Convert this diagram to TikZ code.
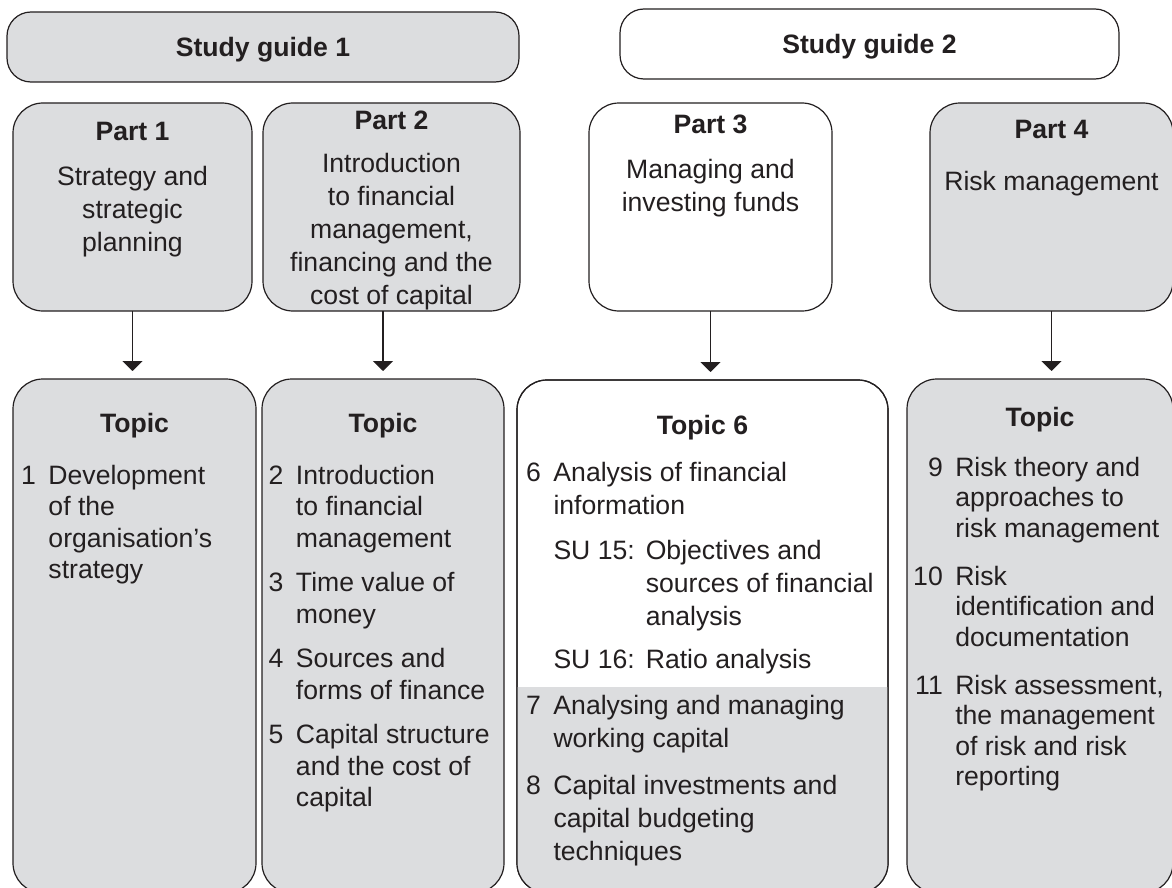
\documentclass[tikz,border=0pt]{standalone}
\usepackage{fontspec}
\setmainfont{Liberation Sans}
\usepackage{tikz}
\usetikzlibrary{positioning, arrows.meta}
\definecolor{ink}{RGB}{35,31,32}
\definecolor{boxgrey}{RGB}{220,221,223}
\newcommand{\boxfont}{\fontsize{26.6}{33}\selectfont}
\newcommand{\listfont}{\fontsize{26.6}{31.5}\selectfont}
\tikzstyle{guidebox} = [rectangle, rounded corners=24pt,
minimum height=70pt,
draw=ink, line width=1.2pt,
inner sep=0pt, outer sep=0pt,
font=\boxfont\bfseries, text height=19pt, text depth=0pt]
\tikzstyle{partbox} = [rectangle, rounded corners=30pt,
minimum height=208pt,
draw=ink, line width=1.2pt,
inner sep=0pt, outer sep=0pt]
\tikzstyle{topicbox} = [rectangle, rounded corners=30pt,
minimum height=514pt,
draw=ink, line width=1.2pt,
inner sep=0pt, outer sep=0pt]
\tikzstyle{head} = [inner sep=0pt, font=\boxfont\bfseries, text height=23.1pt, text depth=9.9pt]
\tikzstyle{txt} = [inner sep=0pt, font=\boxfont]
\tikzstyle{arrow} = [draw=ink, line width=1.2pt, -{Triangle[width=20pt,length=10pt]}, shorten >=8pt]

\begin{document}
\begin{tikzpicture}[x=1pt, y=1pt, text=ink]
\useasboundingbox (0,0) rectangle (1172,-888);

% study guides
\node (guide1) [guidebox, fill=boxgrey, minimum width=512pt] at (263,-47) {Study guide 1};
\node (guide2) [guidebox, fill=white, minimum width=499pt] at (869.5,-44) {Study guide 2};

% parts
\node (part1) [partbox, fill=boxgrey, minimum width=239pt] at (132.5,-207) {};
\node (part2) [partbox, fill=boxgrey, minimum width=257pt] at (391.5,-207) {};
\node (part3) [partbox, fill=white, minimum width=243pt] at (710.5,-207) {};
\node (part4) [partbox, fill=boxgrey, minimum width=243pt] at (1051.5,-207) {};

\node (part1-text) [txt, below=13.9pt of part1.north] {\begin{tabular}{@{}c@{}}
\textbf{Part 1}\\[12pt] Strategy and\\ strategic\\ planning\end{tabular}};
\node (part2-text) [txt, below=2.9pt of part2.north] {\begin{tabular}{@{}c@{}}
\textbf{Part 2}\\[10pt] Introduction\\ to financial\\ management,\\ financing and the\\ cost of capital\end{tabular}};
\node (part3-text) [txt, below=6.9pt of part3.north] {\begin{tabular}{@{}c@{}}
\textbf{Part 3}\\[12pt] Managing and\\ investing funds\end{tabular}};
\node (part4-text) [txt, below=11.9pt of part4.north] {\begin{tabular}{@{}c@{}}
\textbf{Part 4}\\[19pt] Risk management\end{tabular}};

% topics
\node (topic1) [topicbox, fill=boxgrey, minimum width=243pt] at (134.5,-636) {};
\node (topic2) [topicbox, fill=boxgrey, minimum width=242pt] at (383,-636) {};
\node (topic6) [topicbox, fill=white, minimum width=371pt, minimum height=513pt] at (702.5,-636.5) {};
\node (topic4) [topicbox, fill=boxgrey, minimum width=266pt] at (1040,-636) {};

% lower half of topic 6 is shaded
\coordinate (split) at (702.5,-687);
\begin{scope}
  \clip[rounded corners=30pt] (topic6.north west) rectangle (topic6.south east);
  \fill[boxgrey] (topic6.south west) rectangle (topic6.east |- split);
\end{scope}
\draw[draw=ink, line width=1.2pt, rounded corners=30pt] (topic6.north west) rectangle (topic6.south east);

\node (topic1-head) [head, below=29.9pt of topic1.north] {Topic};
\node (topic2-head) [head, below=29.9pt of topic2.north] {Topic};
\node (topic6-head) [head, below=30.9pt of topic6.north] {Topic 6};
\node (topic4-head) [head, below=23.9pt of topic4.north] {Topic};

\node (topic1-list) [txt, font=\listfont, below right=83pt and 8pt of topic1.north west] {\begin{tabular}{@{}l@{\hspace{12.5pt}}l@{}}
1 & Development\\
  & of the\\
  & organisation’s\\
  & strategy
\end{tabular}};

\node (topic2-list) [txt, font=\listfont, below right=83pt and 6.5pt of topic2.north west] {\begin{tabular}{@{}l@{\hspace{12.5pt}}l@{}}
2 & Introduction\\
  & to financial\\
  & management\\[13pt]
3 & Time value of\\
  & money\\[13pt]
4 & Sources and\\
  & forms of finance\\[13pt]
5 & Capital structure\\
  & and the cost of\\
  & capital
\end{tabular}};

\node (topic6-list) [txt, below right=77.9pt and 9pt of topic6.north west] {\begin{tabular}{@{}l@{\hspace{12.5pt}}l@{\hspace{11pt}}l@{}}
6 & \multicolumn{2}{@{}l@{}}{Analysis of financial}\\
  & \multicolumn{2}{@{}l@{}}{information}\\[12pt]
  & SU 15: & Objectives and\\
  &        & sources of financial\\
  &        & analysis\\[10pt]
  & SU 16: & Ratio analysis\\[13pt]
7 & \multicolumn{2}{@{}l@{}}{Analysing and managing}\\
  & \multicolumn{2}{@{}l@{}}{working capital}\\[14pt]
8 & \multicolumn{2}{@{}l@{}}{Capital investments and}\\
  & \multicolumn{2}{@{}l@{}}{capital budgeting}\\
  & \multicolumn{2}{@{}l@{}}{techniques}
\end{tabular}};

\node (topic4-list) [txt, font=\fontsize{26.6}{30.5}\selectfont, below right=75.6pt and 6pt of topic4.north west] {\begin{tabular}{@{}r@{\hspace{12.5pt}}l@{}}
9  & Risk theory and\\
   & approaches to\\
   & risk management\\[17.5pt]
10 & Risk\\
   & identification and\\
   & documentation\\[17.5pt]
11 & Risk assessment,\\
   & the management\\
   & of risk and risk\\
   & reporting
\end{tabular}};

% connectors
\draw [arrow] (part1.south) -- (part1.south |- topic1.north);
\draw [arrow] (topic2.north |- part2.south) -- (topic2.north);
\draw [arrow] (part3.south) -- (part3.south |- topic6.north);
\draw [arrow] (part4.south) -- (part4.south |- topic4.north);
\end{tikzpicture}
\end{document}
